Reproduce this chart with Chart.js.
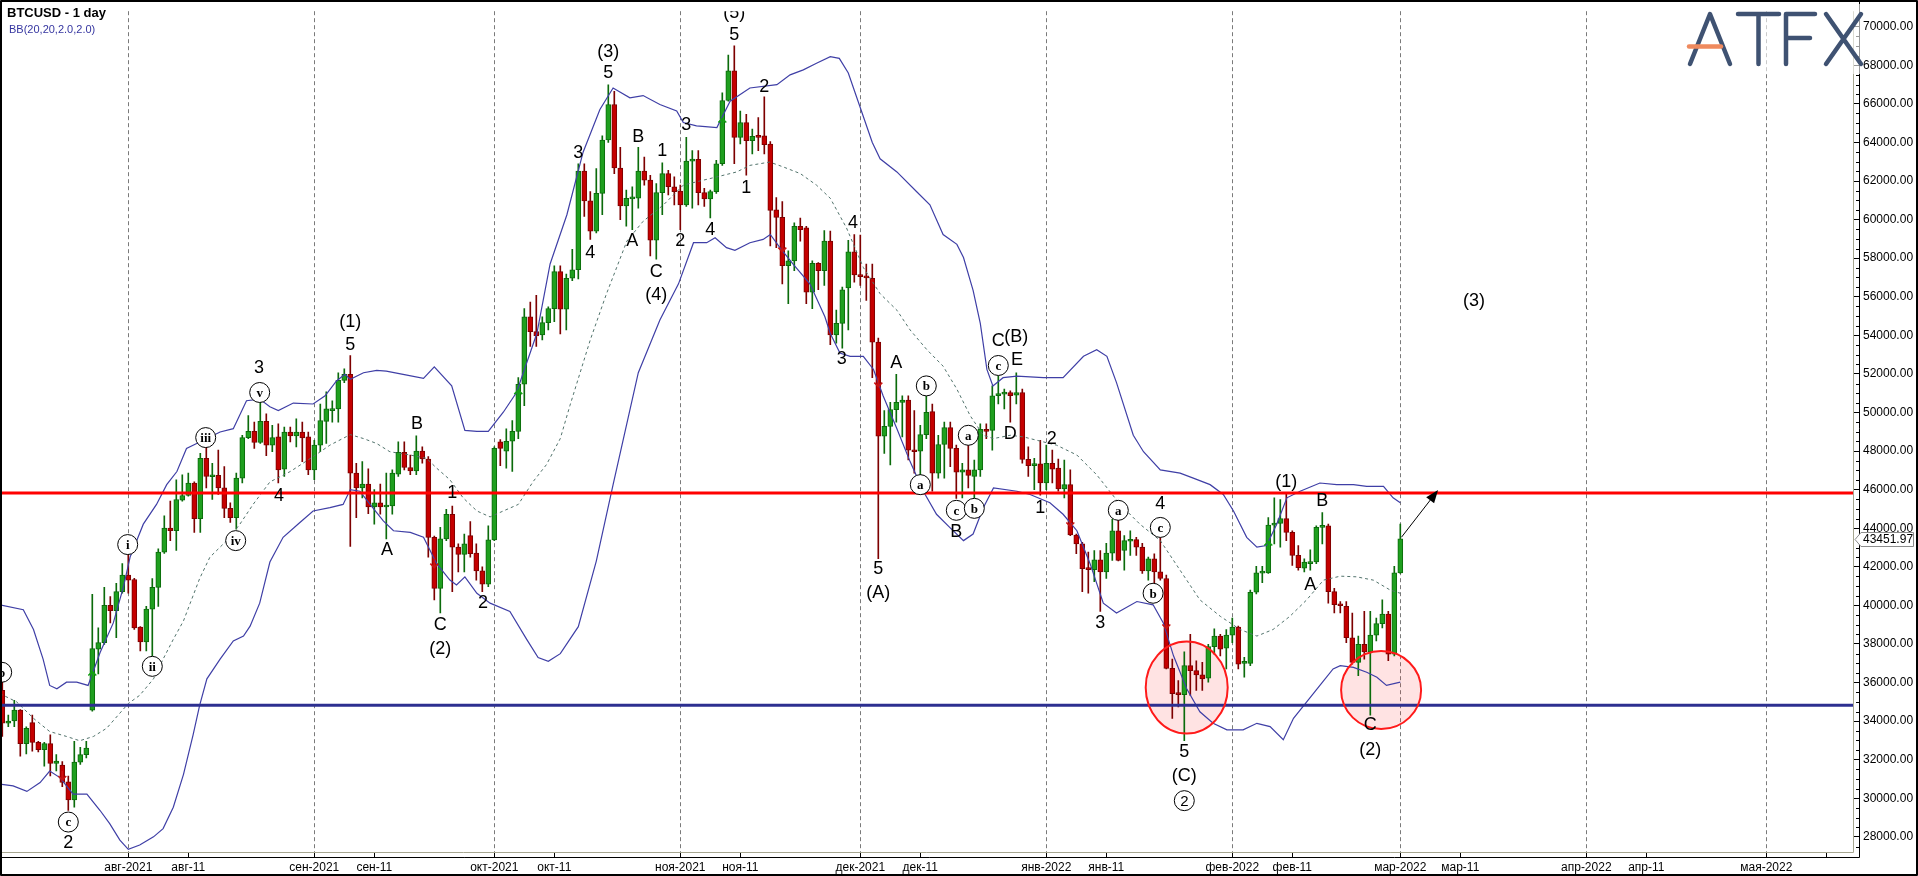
<!DOCTYPE html>
<html lang="ru">
<head>
<meta charset="utf-8">
<title>BTCUSD - 1 day</title>
<script src="https://cdn.jsdelivr.net/npm/chart.js@4.4.1/dist/chart.umd.min.js"></script>
<style>
  html, body { margin: 0; padding: 0; background: #ffffff; overflow: hidden; }
  canvas { display: block; }
</style>
</head>
<body>
<canvas id="btcChart" width="1918" height="876"></canvas>
<script>
// x axis = days counted from 1 Aug 2021, one daily candle per slot
var firstDay = -21;

var opens = [
  35595, 33890, 34009, 34571, 32832, 33924, 32900, 32525, 32832, 31807,
  31722, 30852, 29914, 31876, 32268, 34571, 37728, 38069, 39998, 39725,
  40714, 41567, 41345, 38871, 38103, 39810, 40936, 42762, 44007, 43871,
  45458, 45696, 46345, 44502, 47625, 46669, 46737, 46089, 45031, 44553,
  46601, 48700, 49024, 48444, 49536, 48307, 48734, 47062, 48990, 48785,
  48990, 48734, 47028, 48307, 49536, 50099, 50184, 51669, 51976, 46857,
  46089, 46294, 45100, 45321, 45100, 45151, 46806, 47932, 47147, 46976,
  48000, 47591, 43530, 40885, 43445, 44725, 43018, 42643, 43615, 42711,
  41790, 41107, 43394, 48478, 48000, 48512, 49024, 51464, 54962, 54194,
  54023, 54655, 55389, 57300, 55355, 56959, 57402, 62521, 60969, 59399,
  61361, 64125, 65968, 62675, 60713, 61071, 61105, 62521, 62044, 58938,
  61395, 62385, 61702, 61480, 60764, 63033, 63118, 61395, 61071, 61446,
  62897, 66173, 67708, 64262, 65030, 64091, 64347, 64347, 63920, 60508,
  60116, 57607, 57863, 59655, 59570, 56242, 57727, 57351, 58887, 54024,
  54620, 56464, 58324, 57146, 57078, 56958, 53648, 48768, 49280, 50150,
  50526, 50645, 48051, 48000, 48853, 50048, 46857, 48341, 49212, 48137,
  46908, 47028, 46686, 47028, 49127, 49076, 50867, 50952, 51037, 50901,
  51037, 47573, 47250, 47335, 46345, 47369, 47113, 46038, 46260, 43649,
  43189, 41909, 41857, 42369, 41738, 42710, 43871, 42847, 43325, 43410,
  43018, 41789, 42420, 41738, 41397, 36738, 35459, 35374, 36875, 36619,
  36398, 36226, 37865, 38411, 37780, 38462, 38871, 36994, 36994, 40680,
  41670, 41687, 44160, 44246, 44502, 43786, 42591, 41926, 42164, 42250,
  44042, 44127, 40714, 40083, 39946, 38325, 37046, 37984, 37592, 38462,
  39059, 39554, 37472, 41687
];
var highs = [
  36022, 34316, 35083, 34600, 33700, 34316, 32950, 32900, 33292, 32268,
  31900, 31159, 32951, 32643, 32951, 40578, 38837, 40936, 40459, 41141,
  42164, 42676, 41400, 38900, 39946, 41397, 42932, 44638, 45406, 46515,
  46771, 46857, 46400, 47881, 48223, 47369, 48052, 47198, 45321, 46857,
  48819, 49843, 49502, 50696, 49928, 49331, 49416, 49246, 49246, 49672,
  49502, 48990, 48563, 50440, 51072, 50611, 52061, 52266, 52948, 47369,
  47454, 47079, 46004, 46294, 46857, 47028, 48478, 48478, 47796, 48785,
  48222, 47710, 43600, 44043, 44980, 45151, 43189, 43701, 44350, 43189,
  41995, 44128, 48222, 48600, 49160, 49587, 51805, 55389, 55730, 56071,
  54962, 55474, 57607, 57607, 57181, 58460, 62897, 62897, 61446, 62641,
  64347, 66992, 66651, 63750, 61532, 61702, 63750, 63238, 62300, 61873,
  62948, 62556, 62214, 61788, 64262, 63579, 63579, 61617, 61532, 63067,
  66565, 68528, 69005, 65627, 65456, 64688, 65286, 66360, 64040, 61139,
  60934, 58375, 59826, 60082, 59655, 57863, 57778, 59433, 59399, 55303,
  56498, 58921, 59228, 59194, 57692, 57692, 53853, 50099, 50526, 51976,
  50867, 50867, 50099, 49331, 50833, 50440, 48819, 49502, 49502, 48307,
  47369, 48307, 47539, 49416, 49416, 51379, 51891, 51208, 51123, 52061,
  51208, 48222, 47625, 48563, 48307, 48051, 47591, 47539, 47028, 43700,
  43274, 42761, 42847, 42847, 43222, 44468, 44468, 43615, 43871, 43529,
  43223, 42506, 42676, 43871, 41567, 37216, 36107, 37592, 38496, 37131,
  37046, 37984, 38786, 38496, 38752, 39349, 38923, 37302, 40800, 42028,
  42028, 44553, 45577, 45492, 45833, 43871, 43103, 42420, 42881, 44127,
  44809, 44212, 40885, 40202, 40202, 39605, 38411, 39690, 39690, 39349,
  40287, 39690, 42028, 44212
];
var lows = [
  33207, 33719, 33719, 32183, 32302, 32438, 32400, 31671, 31159, 31415,
  30600, 29368, 29539, 31756, 32097, 34520, 36447, 37984, 39094, 38325,
  40629, 40629, 38752, 37642, 37642, 37386, 39946, 42700, 43359, 42847,
  45406, 45662, 43785, 43785, 46089, 45492, 45748, 44553, 44297, 43956,
  46345, 48649, 48137, 48393, 47761, 47966, 46345, 46686, 48478, 48222,
  47454, 46772, 46516, 47966, 48393, 49502, 49502, 51550, 43052, 44553,
  45577, 44758, 44213, 44725, 43445, 44725, 46686, 47028, 46772, 46772,
  47369, 42506, 40288, 39605, 43360, 40714, 41738, 41738, 42506, 41312,
  40714, 40970, 43360, 47250, 47113, 46942, 48648, 50355, 53426, 53426,
  53767, 54280, 54706, 54075, 54280, 56840, 56925, 60167, 58972, 59314,
  60252, 64006, 62385, 59996, 59655, 59484, 60593, 61788, 58119, 57949,
  60252, 61276, 60764, 59484, 60679, 60593, 60764, 60679, 60082, 61361,
  62812, 66139, 62897, 63920, 62300, 63409, 63579, 63409, 58631, 58546,
  56669, 55645, 57351, 58887, 55645, 55389, 56362, 56584, 53512, 53597,
  53341, 54280, 56754, 56583, 55815, 51805, 42420, 47880, 47283, 49502,
  48734, 47539, 46857, 46260, 48648, 45918, 46601, 46601, 47198, 45542,
  45577, 46089, 45577, 46686, 48648, 48051, 50440, 50184, 49502, 50440,
  47369, 46686, 46004, 45713, 46004, 46345, 45918, 45577, 43615, 42676,
  40714, 40629, 41227, 39690, 41397, 42335, 42300, 41823, 42591, 42591,
  41653, 41311, 41141, 41311, 36705, 34145, 34742, 32985, 35340, 35596,
  35596, 36022, 37472, 37387, 36704, 38069, 36704, 36278, 36875, 40595,
  41175, 41653, 43189, 43018, 43359, 42079, 41823, 41738, 41823, 42164,
  43189, 40117, 39605, 39605, 38069, 36960, 36363, 37216, 34316, 38155,
  38837, 37131, 37387, 41653
];
var closes = [
  33890, 34009, 34571, 32832, 33634, 32900, 32525, 32832, 31807, 31927,
  30818, 29914, 31876, 32268, 32609, 37762, 38069, 39998, 39725, 40714,
  41567, 41311, 38837, 38103, 39810, 40936, 42762, 44007, 43871, 45492,
  45696, 46345, 44502, 47625, 46686, 46737, 46089, 45031, 44553, 46601,
  48700, 49024, 48444, 49536, 48307, 48700, 47028, 48990, 48785, 48990,
  48683, 47028, 48307, 49587, 50184, 50184, 51669, 51976, 46857, 46089,
  46294, 45100, 45321, 45100, 45185, 46857, 47932, 47147, 46976, 48000,
  47591, 43530, 40885, 43445, 44725, 43018, 42643, 43189, 42677, 41790,
  41107, 43394, 48137, 48137, 48512, 49024, 51464, 54962, 54194, 53972,
  54655, 55389, 57300, 55355, 56959, 57402, 62521, 60969, 59399, 61361,
  64125, 65968, 62675, 60713, 61105, 61156, 62521, 62044, 58938, 61395,
  62385, 61702, 61446, 60764, 63033, 63118, 61395, 61071, 61446, 62897,
  66173, 67708, 64262, 65030, 64091, 64313, 64262, 63886, 60474, 60116,
  57607, 57863, 59655, 59484, 56242, 57727, 57351, 58887, 54024, 54620,
  56361, 58324, 57129, 57044, 56975, 53648, 48768, 49280, 50150, 50526,
  50645, 48051, 47966, 48853, 50014, 46857, 48341, 49212, 48137, 46908,
  47028, 46737, 47028, 49127, 49024, 50867, 50986, 51037, 50867, 51037,
  47573, 47250, 47335, 46345, 47369, 47062, 46038, 46260, 43649, 43189,
  41909, 41857, 42369, 41738, 42710, 43871, 42335, 43359, 43410, 43018,
  41789, 42420, 41738, 41397, 36738, 35425, 35374, 36875, 36619, 36398,
  36192, 37865, 38411, 37728, 38462, 38871, 36960, 37080, 40680, 41687,
  41738, 44160, 44246, 44502, 43786, 42591, 41960, 42250, 42250, 44042,
  44127, 40714, 40032, 39981, 38325, 37046, 37984, 37592, 38462, 39059,
  39554, 37472, 41687, 43451.97
];

// Bollinger bands BB(20,2)
var bbUpperDays = [-21.4, -17.5, -15.8, -14.2, -13.1, -11.9, -10.3, -8.6, -6.7, -4.7, -2.5, -0.8, 0.3, 2.5, 4.7, 6.4, 8.1, 9.7, 11.4, 13.1, 15.3, 17.5, 19.7, 21.9, 23.6, 25, 27.5, 30.8, 32.8, 34.7, 36.1, 37, 39.2, 41.4, 43, 45.8, 49.2, 51, 53.9, 56.1, 58.1, 60, 62.5, 64.7, 68.1, 70.3, 73.1, 75.8, 78.6, 80.8, 83.6, 85.8, 88.6, 91.4, 92.5, 94.7, 98.1, 100.3, 103.6, 108.1, 110.3, 112.5, 114.7, 117, 118.5, 120, 122, 124, 125.3, 128.1, 131.4, 133.6, 135.8, 138.1, 139.2, 140.8, 142, 143.1, 144.1, 145.8, 148.1, 152.5, 155.8, 159.2, 161.4, 163.1, 164.7, 167.5, 169.2, 172, 175.3, 177.5, 180.3, 182.5, 184.2, 186.4, 188.1, 189.7, 191.4, 193.1, 195.3, 198.6, 201.4, 204.2, 206.4, 209.2, 210.8, 212];
var bbUpper = [40032, 39776, 38752, 37216, 35851, 35680, 36022, 36022, 35851, 37557, 39093, 40970, 42506, 44212, 45236, 46259, 46942, 48137, 48393, 48649, 48990, 49160, 50611, 50696, 50300, 50099, 50491, 50440, 50867, 51635, 51976, 51720, 52061, 52180, 52146, 51976, 51771, 52368, 51379, 49075, 49024, 49024, 50014, 51038, 54108, 57700, 60252, 63494, 65712, 66821, 66309, 66429, 65968, 65627, 65030, 64859, 64774, 66139, 66821, 66992, 67504, 67760, 68101, 68442, 68357, 67600, 65800, 64000, 63152, 62470, 61446, 60764, 59228, 58716, 58033, 56327, 54621, 52232, 51379, 51805, 51890, 51805, 51805, 52914, 53256, 52914, 51549, 48819, 47966, 47028, 46857, 46601, 46260, 45748, 44895, 43529, 43018, 43103, 44212, 45577, 45918, 46345, 46260, 46260, 46174, 46174, 45577, 45321];

var bbMidDays = [-21.4, -18.6, -15.8, -13.1, -10.3, -8.1, -5.8, -3.6, 0, 1.9, 4.2, 5.8, 7.5, 9.2, 10.3, 11.9, 13.6, 16.4, 18.6, 20.8, 23.6, 27, 30.8, 33.6, 37, 39.2, 41.4, 43.6, 47, 49.7, 51.4, 53.6, 55.8, 58.1, 60.3, 62.5, 65, 67.5, 69.7, 72, 73.6, 77, 79.7, 83.1, 85.8, 89.2, 92.5, 94.7, 98.1, 101.4, 103.6, 106.9, 109.2, 112, 114.7, 117, 119.7, 122.5, 125.3, 128.1, 130.3, 133.1, 135.8, 138.1, 140.3, 142.5, 144.2, 147, 149.2, 151.4, 154.7, 158.1, 161.4, 165.3, 168.6, 172, 175.3, 178.6, 182, 185.3, 188.1, 190.8, 193.6, 196.4, 199.2, 202, 204.7, 207.5, 210.3, 212];
var bbMid = [35425, 34998, 34145, 33462, 33207, 32985, 33207, 33634, 34913, 35339, 36192, 37216, 38240, 39200, 40100, 41400, 42500, 43359, 44212, 45236, 46400, 46942, 47710, 48307, 48853, 48649, 48393, 47966, 47795, 47625, 47113, 46515, 45577, 44895, 44588, 44895, 45236, 46430, 47300, 48650, 50355, 53768, 56157, 58887, 59911, 60764, 61787, 61958, 62214, 62470, 62811, 62982, 62726, 62385, 61787, 61105, 59569, 57522, 56157, 55303, 54280, 53256, 52403, 51209, 49843, 48819, 48649, 48819, 48734, 48563, 48307, 47795, 46771, 45236, 44212, 43359, 41823, 40288, 39434, 38752, 38411, 38752, 39434, 40288, 41311, 41516, 41482, 41311, 40799, 40629];

var bbLowerDays = [-21.4, -19.2, -16.9, -14.7, -13.1, -11.4, -9.2, -6.9, -4.7, -3.1, -1.4, 0, 1.9, 4.2, 5.8, 7.5, 9.2, 10.8, 11.9, 13.1, 15.3, 17.5, 19.2, 20.3, 21.9, 23.6, 25.8, 28.6, 30.8, 33.6, 35.8, 37, 38.6, 40.3, 42.5, 44.2, 47, 49.2, 51.4, 53.6, 54.7, 56.1, 58.1, 60.3, 63.6, 66.4, 68.3, 70, 72, 75, 78, 80.8, 85, 88.6, 91.7, 94.2, 96.4, 97.8, 99.7, 101.1, 103.6, 105.8, 107, 108.6, 110.8, 113.6, 116.1, 117, 118.6, 120.3, 122.5, 124.2, 125.8, 128.1, 130.3, 132.5, 134.7, 136.9, 139.2, 140.8, 142.5, 144.2, 148.1, 150.3, 153.6, 155.8, 158.1, 160.3, 162.5, 164.7, 168.1, 170.8, 172.5, 174.2, 176.4, 178.6, 180.8, 183.1, 185.8, 188.1, 190.3, 192.5, 194.2, 196.4, 198.6, 200.8, 202, 204.2, 206.4, 208.1, 209.7, 212];
var bbLower = [30732, 30647, 30357, 30818, 31415, 31074, 30221, 30221, 29368, 28685, 27832, 27354, 27576, 28002, 28429, 29538, 31244, 33292, 34827, 36192, 37216, 38154, 38411, 38923, 40117, 42250, 43530, 44298, 44895, 45065, 45236, 46004, 45918, 45236, 44383, 43871, 43786, 43530, 42165, 41312, 41056, 41482, 40629, 40117, 39690, 38240, 37300, 37100, 37500, 38900, 42300, 46260, 52062, 54791, 56668, 58802, 58802, 59058, 58546, 58410, 58802, 58972, 59228, 58546, 57692, 56669, 54962, 54100, 53085, 52914, 52914, 52232, 50867, 49160, 47454, 45918, 44724, 44042, 43359, 43700, 45065, 46089, 45918, 45748, 45321, 44724, 43871, 42164, 40117, 39605, 40202, 40032, 39093, 37386, 35680, 34486, 33889, 33548, 33548, 33889, 33719, 33036, 34145, 34998, 35851, 36704, 36875, 36790, 36534, 36278, 35851, 36022];

var resistanceLevel = 45833;
var supportLevel = 34825;

var monthDays = [0, 31, 61, 92, 122, 153, 184, 212, 243, 273];
var monthLabels = ['авг-2021', 'сен-2021', 'окт-2021', 'ноя-2021', 'дек-2021', 'янв-2022', 'фев-2022', 'мар-2022', 'апр-2022', 'мая-2022'];
var midDays = [10, 41, 71, 102, 132, 163, 194, 222, 253, 283];
var midLabels = ['авг-11', 'сен-11', 'окт-11', 'ноя-11', 'дек-11', 'янв-11', 'фев-11', 'мар-11', 'апр-11', ''];
var priceTicks = [28000, 30000, 32000, 34000, 36000, 38000, 40000, 42000, 44000, 46000, 48000, 50000,
  52000, 54000, 56000, 58000, 60000, 62000, 64000, 66000, 68000, 70000];

// Elliott wave marks
var waveText = ['2', '3', '4', '(1)', '5', 'A', 'B', '1', 'C', '(2)', '2', '3', '4', '(3)', '5', 'A', 'B', 'C', '(4)', '1',
  '2', '3', '4', '(5)', '5', '1', '2', '3', '4', '5', '(A)', 'A', 'B', 'C', '(B)', 'E', 'D', '1', '2', '3',
  '4', '5', '(C)', 'A', '(1)', 'B', 'C', '(2)', '(3)'];
var waveDay = [-10, 21.8, 25.1, 37, 37, 43.1, 48.1, 54, 52, 52, 59.1, 75, 77, 80, 80, 84, 85, 88, 88, 89,
  92, 93, 97, 101, 101, 103, 106, 118.9, 120.8, 125, 125, 128, 138, 145, 148, 148.1, 147, 152, 153.9, 162,
  172, 176, 176, 197, 193, 199, 207, 207, 224.3];
var wavePrice = [27660, 52300, 45650, 54706, 53511, 42847, 49416, 45833, 39008, 37762, 40117, 63460, 58290, 68698, 67589, 58887, 64262, 57300, 56072, 63579,
  58887, 64893, 59484, 70700, 69551, 61617, 66872, 52790, 59825, 41909, 40629, 52573, 43786, 53682, 53938, 52710, 48905, 45031, 48614, 39094,
  45236, 32404, 31159, 41056, 46396, 45406, 33804, 32524, 55801];

var circText = ['b', 'c', 'i', 'ii', 'iii', 'iv', 'v', 'a', 'b', 'c', 'a', 'b', 'c', 'a', 'b', 'c', '2'];
var circDay = [-21.1, -10, -0.1, 4, 12.9, 17.9, 21.9, 132, 133, 138, 140, 141, 145, 165, 170.8, 172, 176];
var circPrice = [36534, 28770, 43154, 36841, 48700, 43359, 51037, 46260, 51379, 44929, 48819, 45031, 52437, 44929, 40629, 44042, 29879];

var upMarkDays = [-6, 65, 99, 190];
var upMarkPrices = [36363, 50952, 65030, 43103];
var downMarkDays = [-11, 51, 109, 125, 157, 173];
var downMarkPrices = [31159, 42165, 58546, 51549, 44298, 39008];

var zoneDays = [176.4, 208.8];
var zonePrices = [35740, 35612];

var targetFrom = [212.2, 43536];
var targetTo = [218.3, 45983];

// ---------------------------------------------------------------------------

var GREEN = '#1f9f1f', GREEN_DARK = '#0b6b0b';
var RED = '#c40000', RED_DARK = '#7d0000';
var X_MIN = -21.383, X_MAX = 287.45;
var Y_MIN = 27217, Y_MAX = 70803;

var wickData = [], bodyData = [], wickColors = [], bodyColors = [], bodyBorders = [];
for (var i = 0; i < opens.length; i++) {
  var day = firstDay + i;
  var up = closes[i] >= opens[i];
  wickData.push({ x: day, y: [lows[i], highs[i]] });
  bodyData.push({ x: day, y: [opens[i], closes[i]] });
  wickColors.push(up ? GREEN_DARK : RED_DARK);
  bodyColors.push(up ? GREEN : RED);
  bodyBorders.push(up ? GREEN_DARK : RED_DARK);
}

function toPoints(days, values) {
  return days.map(function (d, k) { return { x: d, y: values[k] }; });
}

var xTickDays = monthDays.concat(midDays).sort(function (a, b) { return a - b; });

function xLabel(v) {
  var k = monthDays.indexOf(v);
  if (k >= 0) return monthLabels[k];
  k = midDays.indexOf(v);
  return k >= 0 ? midLabels[k] : '';
}

function pt(chart, d, p) {
  return { x: chart.scales.x.getPixelForValue(d), y: chart.scales.y.getPixelForValue(p) };
}

var overlay = {
  id: 'overlay',
  beforeDraw: function (chart) {
    var ctx = chart.ctx;
    ctx.save();
    ctx.fillStyle = '#ffffff';
    ctx.fillRect(0, 0, chart.width, chart.height);
    ctx.restore();
  },
  beforeDatasetsDraw: function (chart) {
    var ctx = chart.ctx, area = chart.chartArea;
    ctx.save();
    // month separators
    ctx.strokeStyle = '#7a7a7a';
    ctx.lineWidth = 1;
    ctx.setLineDash([4, 3]);
    monthDays.forEach(function (d) {
      var x = Math.round(chart.scales.x.getPixelForValue(d)) + 0.5;
      ctx.beginPath();
      ctx.moveTo(x, area.top);
      ctx.lineTo(x, area.bottom);
      ctx.stroke();
    });
    ctx.setLineDash([]);
    // pink zones (fill under the candles)
    var radii = [[41, 46], [40, 39]];
    zoneDays.forEach(function (d, k) {
      var c = pt(chart, d, zonePrices[k]);
      ctx.beginPath();
      ctx.ellipse(c.x, c.y, radii[k][0], radii[k][1], 0, 0, Math.PI * 2);
      ctx.fillStyle = 'rgba(255, 40, 40, 0.13)';
      ctx.fill();
    });
    ctx.restore();
  },
  afterDatasetsDraw: function (chart) {
    var ctx = chart.ctx, area = chart.chartArea;
    ctx.save();
    ctx.beginPath();
    ctx.rect(area.left, area.top, area.right - area.left, area.bottom - area.top);
    ctx.clip();

    // zone outlines
    var radii = [[41, 46], [40, 39]];
    zoneDays.forEach(function (d, k) {
      var c = pt(chart, d, zonePrices[k]);
      ctx.beginPath();
      ctx.ellipse(c.x, c.y, radii[k][0], radii[k][1], 0, 0, Math.PI * 2);
      ctx.strokeStyle = '#ff1a1a';
      ctx.lineWidth = 2;
      ctx.stroke();
    });

    // trade markers
    ctx.lineWidth = 1.5;
    upMarkDays.forEach(function (d, k) {
      var c = pt(chart, d, upMarkPrices[k]);
      ctx.strokeStyle = '#12a012';
      ctx.beginPath();
      ctx.moveTo(c.x, c.y + 5); ctx.lineTo(c.x, c.y - 4);
      ctx.moveTo(c.x - 4, c.y); ctx.lineTo(c.x, c.y - 4); ctx.lineTo(c.x + 4, c.y);
      ctx.stroke();
    });
    downMarkDays.forEach(function (d, k) {
      var c = pt(chart, d, downMarkPrices[k]);
      ctx.strokeStyle = '#c81414';
      ctx.beginPath();
      ctx.moveTo(c.x, c.y - 5); ctx.lineTo(c.x, c.y + 4);
      ctx.moveTo(c.x - 4, c.y); ctx.lineTo(c.x, c.y + 4); ctx.lineTo(c.x + 4, c.y);
      ctx.stroke();
    });

    // wave labels
    ctx.fillStyle = '#000000';
    ctx.textAlign = 'center';
    ctx.textBaseline = 'middle';
    ctx.font = '18px "Liberation Sans", Arial, sans-serif';
    waveText.forEach(function (t, k) {
      var c = pt(chart, waveDay[k], wavePrice[k]);
      ctx.fillText(t, c.x, c.y);
    });

    // circled sub-wave labels
    circText.forEach(function (t, k) {
      var c = pt(chart, circDay[k], circPrice[k]);
      ctx.beginPath();
      ctx.arc(c.x, c.y, 10, 0, Math.PI * 2);
      ctx.fillStyle = '#ffffff';
      ctx.fill();
      ctx.strokeStyle = '#000000';
      ctx.lineWidth = 1;
      ctx.stroke();
      ctx.fillStyle = '#000000';
      ctx.font = (t === '2' ? '15px "Liberation Sans", Arial' : 'bold 13px "Liberation Serif", "Times New Roman", serif');
      ctx.fillText(t, c.x, c.y + 1);
    });

    // target arrow
    var a = pt(chart, targetFrom[0], targetFrom[1]);
    var b = pt(chart, targetTo[0], targetTo[1]);
    var ang = Math.atan2(b.y - a.y, b.x - a.x);
    ctx.strokeStyle = '#000000';
    ctx.fillStyle = '#000000';
    ctx.lineWidth = 1;
    ctx.beginPath();
    ctx.moveTo(a.x, a.y);
    ctx.lineTo(b.x - 8 * Math.cos(ang), b.y - 8 * Math.sin(ang));
    ctx.stroke();
    ctx.beginPath();
    ctx.moveTo(b.x, b.y);
    ctx.lineTo(b.x - 13 * Math.cos(ang) + 5 * Math.sin(ang), b.y - 13 * Math.sin(ang) - 5 * Math.cos(ang));
    ctx.lineTo(b.x - 13 * Math.cos(ang) - 5 * Math.sin(ang), b.y - 13 * Math.sin(ang) + 5 * Math.cos(ang));
    ctx.closePath();
    ctx.fill();
    ctx.restore();
  },
  afterDraw: function (chart) {
    var ctx = chart.ctx, area = chart.chartArea, ys = chart.scales.y;
    ctx.save();
    // plot frame
    ctx.strokeStyle = '#a6a690';
    ctx.lineWidth = 1;
    ctx.beginPath();
    ctx.moveTo(area.left, area.bottom + 0.5); ctx.lineTo(area.right + 0.5, area.bottom + 0.5);
    ctx.lineTo(area.right + 0.5, area.top);
    ctx.stroke();
    // axis lines
    ctx.strokeStyle = '#000000';
    ctx.beginPath();
    ctx.moveTo(0, area.bottom + 5.5); ctx.lineTo(area.right + 6.5, area.bottom + 5.5);
    ctx.moveTo(area.right + 6.5, area.bottom + 5.5); ctx.lineTo(area.right + 6.5, 0);
    ctx.stroke();
    // minor price ticks
    ctx.beginPath();
    for (var p = 27500; p < Y_MAX; p += 500) {
      if (p % 2000 === 0) continue;
      var y = Math.round(ys.getPixelForValue(p)) + 0.5;
      ctx.moveTo(area.right + 3, y); ctx.lineTo(area.right + 7, y);
    }
    ctx.stroke();

    // last price box
    var ly = Math.round(ys.getPixelForValue(closes[closes.length - 1]));
    ctx.beginPath();
    ctx.moveTo(area.right + 2, ly + 0.5);
    ctx.lineTo(area.right + 8, ly - 6.5);
    ctx.lineTo(chart.width - 4.5, ly - 6.5);
    ctx.lineTo(chart.width - 4.5, ly + 7.5);
    ctx.lineTo(area.right + 8, ly + 7.5);
    ctx.closePath();
    ctx.fillStyle = '#ffffff';
    ctx.fill();
    ctx.strokeStyle = '#8c8c8c';
    ctx.stroke();
    ctx.fillStyle = '#000000';
    ctx.font = '12px "Liberation Sans", Arial, sans-serif';
    ctx.textAlign = 'left';
    ctx.textBaseline = 'middle';
    ctx.fillText(closes[closes.length - 1].toFixed(2), area.right + 10, ly + 1);

    // title block
    ctx.font = 'bold 13px "Liberation Sans", Arial, sans-serif';
    ctx.textBaseline = 'alphabetic';
    ctx.fillText('BTCUSD - 1 day', 7, 17);
    ctx.font = '11px "Liberation Sans", Arial, sans-serif';
    ctx.fillStyle = '#3535a0';
    ctx.fillText('BB(20,20,2.0,2.0)', 9, 33);

    // ATFX logo
    ctx.fillStyle = 'rgba(255, 255, 255, 0.6)';
    ctx.fillRect(1680, 4, area.right + 8 - 1680, 70);
    ctx.lineCap = 'round';
    ctx.lineJoin = 'round';
    ctx.lineWidth = 4.5;
    ctx.strokeStyle = '#3f5272';
    ctx.beginPath();
    ctx.moveTo(1690, 64); ctx.lineTo(1710, 14); ctx.lineTo(1730, 64);
    ctx.moveTo(1738, 14); ctx.lineTo(1779, 14);
    ctx.moveTo(1758.5, 14); ctx.lineTo(1758.5, 64);
    ctx.moveTo(1786, 64); ctx.lineTo(1786, 14); ctx.lineTo(1815, 14);
    ctx.moveTo(1786, 38); ctx.lineTo(1810, 38);
    ctx.moveTo(1826, 14); ctx.lineTo(1861, 64);
    ctx.moveTo(1861, 14); ctx.lineTo(1826, 64);
    ctx.stroke();
    ctx.strokeStyle = '#ef8a5e';
    ctx.beginPath();
    ctx.moveTo(1689, 46.5); ctx.lineTo(1721, 46.5);
    ctx.stroke();

    // outer frame
    ctx.strokeStyle = '#000000';
    ctx.lineWidth = 2;
    ctx.lineCap = 'butt';
    ctx.strokeRect(1, 1, chart.width - 2, chart.height - 2);
    ctx.restore();
  }
};

new Chart(document.getElementById('btcChart'), {
  type: 'bar',
  data: {
    datasets: [
      {
        type: 'line', label: 'Resistance', order: 0,
        data: [{ x: X_MIN, y: resistanceLevel }, { x: X_MAX, y: resistanceLevel }],
        borderColor: '#ff0000', borderWidth: 3, pointRadius: 0
      },
      {
        type: 'line', label: 'Support', order: 0,
        data: [{ x: X_MIN, y: supportLevel }, { x: X_MAX, y: supportLevel }],
        borderColor: '#2d2f90', borderWidth: 3, pointRadius: 0
      },
      {
        type: 'line', label: 'BB upper', order: 1,
        data: toPoints(bbUpperDays, bbUpper),
        borderColor: '#3f3fa6', borderWidth: 1.2, pointRadius: 0, tension: 0
      },
      {
        type: 'line', label: 'BB middle', order: 1,
        data: toPoints(bbMidDays, bbMid),
        borderColor: '#52736c', borderWidth: 1, borderDash: [3, 3], pointRadius: 0, tension: 0
      },
      {
        type: 'line', label: 'BB lower', order: 1,
        data: toPoints(bbLowerDays, bbLower),
        borderColor: '#3f3fa6', borderWidth: 1.2, pointRadius: 0, tension: 0
      },
      {
        label: 'Body', order: 2, grouped: false,
        data: bodyData,
        backgroundColor: bodyColors, borderColor: bodyBorders, borderWidth: 1,
        borderSkipped: false, barThickness: 5, minBarLength: 2
      },
      {
        label: 'Wick', order: 3, grouped: false,
        data: wickData,
        backgroundColor: wickColors, borderWidth: 0, barThickness: 1
      }
    ]
  },
  options: {
    responsive: false,
    animation: false,
    devicePixelRatio: 1,
    layout: { padding: 0 },
    plugins: {
      legend: { display: false },
      tooltip: { enabled: false },
      title: { display: false }
    },
    scales: {
      x: {
        type: 'linear', position: 'bottom', min: X_MIN, max: X_MAX, offset: false,
        grid: { display: true, offset: false, drawOnChartArea: false, drawTicks: true, tickLength: 5, color: '#000000' },
        border: { display: false },
        afterBuildTicks: function (axis) {
          axis.ticks = xTickDays.map(function (v) { return { value: v }; });
        },
        afterFit: function (axis) { axis.height = 24; },
        ticks: {
          autoSkip: false, maxRotation: 0, minRotation: 0, padding: 3, color: '#000000',
          font: { family: '"Liberation Sans Narrow", "Arial Narrow", "Liberation Sans", Arial', size: 12 },
          callback: function (v) { return xLabel(v); }
        }
      },
      y: {
        type: 'linear', position: 'right', min: Y_MIN, max: Y_MAX,
        grid: { display: true, drawOnChartArea: false, drawTicks: true, tickLength: 6, color: '#000000' },
        border: { display: false },
        afterBuildTicks: function (axis) {
          axis.ticks = priceTicks.map(function (v) { return { value: v }; });
        },
        afterFit: function (axis) { axis.width = 65; },
        ticks: {
          padding: 4, color: '#000000',
          font: { family: '"Liberation Sans", Arial', size: 12 },
          callback: function (v) { return Number(v).toFixed(2); }
        }
      }
    }
  },
  plugins: [overlay]
});
</script>
</body>
</html>
